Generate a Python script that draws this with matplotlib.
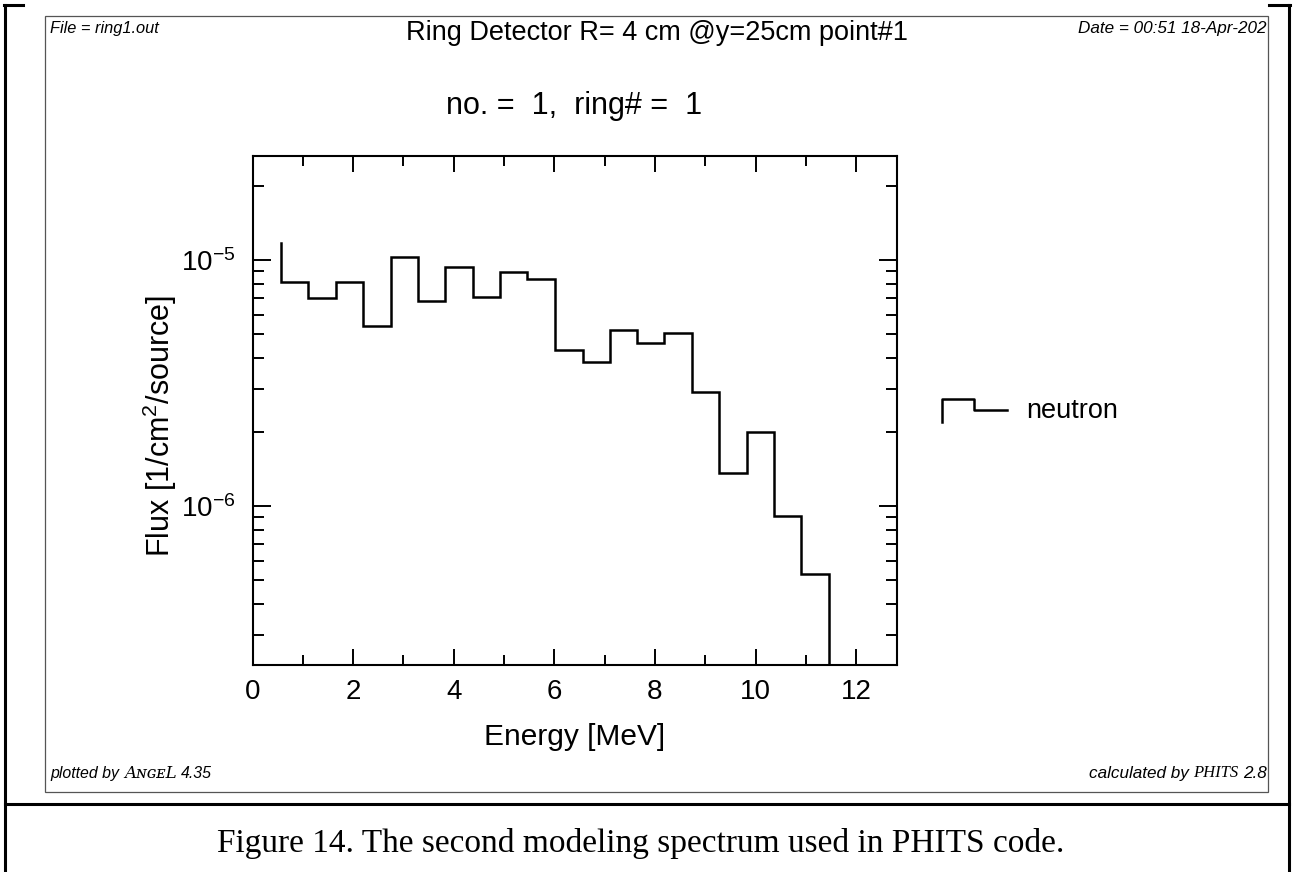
import numpy as np
import matplotlib
matplotlib.use("Agg")
import matplotlib.pyplot as plt
from matplotlib.lines import Line2D
from matplotlib.patches import Rectangle
from matplotlib.text import Annotation

# ---------------- data ----------------
energy_edges = [0.563, 1.11, 1.656, 2.199, 2.75, 3.28, 3.83, 4.39, 4.92, 5.45, 6.01,
                6.56, 7.11, 7.64, 8.18, 8.73, 9.28, 9.82, 10.36, 10.90, 11.45]
flux = [8.17e-6, 7.03e-6, 8.12e-6, 5.37e-6, 1.025e-5, 6.82e-6, 9.34e-6, 7.10e-6,
        8.97e-6, 8.35e-6, 4.31e-6, 3.85e-6, 5.19e-6, 4.62e-6, 5.03e-6, 2.90e-6,
        1.365e-6, 2.0e-6, 9.16e-7, 5.28e-7]
start_flux = 1.17e-5          # level before the first bin (left spike)
x_ticks = [0, 2, 4, 6, 8, 10, 12]
x_lim = (0, 12.8)
y_lim = (2.265e-7, 2.65e-5)
series_name = "neutron"

title_top = "Ring Detector R= 4 cm @y=25cm point#1"
title_sub = "no. =  1,  ring# =  1"
x_label = "Energy [MeV]"
y_label = "Flux [1/cm$^2$/source]"
hdr_file = "File = ring1.out"
hdr_date = "Date = 00:51 18-Apr-202"
caption = "Figure 14. The second modeling spectrum used in PHITS code."

# ---------------- figure ----------------
W, H = 1294, 872
plt.rcParams['font.family'] = ['Liberation Sans', 'DejaVu Sans']
plt.rcParams['mathtext.fontset'] = 'custom'
plt.rcParams['mathtext.rm'] = 'Liberation Sans'
plt.rcParams['mathtext.it'] = 'Liberation Sans:italic'
plt.rcParams['mathtext.bf'] = 'Liberation Sans:bold'

fig = plt.figure(figsize=(W / 100, H / 100), dpi=100)


def fx(x):
    return x / W


def fy(y):
    return 1 - y / H


# axes box in pixels: left 252.5, right 896.5, top 155.7, bottom 665
ax = fig.add_axes([fx(252.5), fy(665), fx(896.5) - fx(252.5), fy(155.7) - fy(665)])
ax.set_yscale('log')
ax.set_xlim(*x_lim)
ax.set_ylim(*y_lim)

# histogram line
xs = np.repeat(energy_edges, 2)
ys = np.concatenate([[start_flux], np.repeat(flux, 2), [y_lim[0] * 0.5]])
ax.plot(xs, ys, color='black', lw=1.8, solid_joinstyle='miter')

# ticks
ax.set_xticks(x_ticks)
ax.set_xticks(np.arange(1, 13, 2), minor=True)
ax.tick_params(axis='both', which='both', direction='in', top=True, right=True,
               width=1.4, colors='black')
ax.tick_params(axis='x', which='major', length=11.2, pad=10, labelsize=20)
ax.tick_params(axis='x', which='minor', length=7.0)
ax.tick_params(axis='y', which='major', length=13, pad=12, labelsize=20)
ax.tick_params(axis='y', which='minor', length=7.9, labelleft=False)
ax.yaxis.set_major_locator(matplotlib.ticker.LogLocator(base=10, numticks=10))
ax.yaxis.set_minor_locator(matplotlib.ticker.LogLocator(base=10, subs=np.arange(2, 10), numticks=20))
ax.yaxis.set_minor_formatter(matplotlib.ticker.NullFormatter())
for s in ax.spines.values():
    s.set_linewidth(1.5)

ax.set_xlabel(x_label, fontsize=21.5, va='center')
ax.xaxis.set_label_coords(0.5, (665 - 737) / (665 - 155.7))
ax.set_ylabel(y_label, fontsize=22, va='center')
ax.yaxis.set_label_coords((160 - 252.5) / 644, (665 - 426) / (665 - 155.7))
ax.set_title(title_sub, fontsize=22, y=(665 - 114) / (665 - 155.7), va='center')

# legend (drawn like the ANGEL key)
fig.add_artist(Line2D([fx(941.7), fx(941.7), fx(974), fx(974), fx(1006.7)],
                      [fy(421.7), fy(399.3), fy(399.3), fy(410), fy(410)],
                      color='black', lw=1.8, transform=fig.transFigure))
fig.text(fx(1026), fy(411), series_name, fontsize=19.5, ha='left', va='center')

# header of the ANGEL page
fig.text(fx(657), fy(33), title_top, fontsize=19.5, ha='center', va='center')
fig.text(fx(50), fy(28), hdr_file, fontsize=11.8, style='italic', ha='left', va='center')
fig.text(fx(1266.7), fy(28), hdr_date, fontsize=12.3, style='italic', ha='right', va='center')

# footer: texts chained one after another
t1 = fig.text(fx(50), fy(773), "plotted by", fontsize=11.4, style='italic',
              ha='left', va='center')
a2 = fig.add_artist(Annotation(
    "A\u0274\u0262\u1d07L", xy=(1, 0.5), xycoords=t1, xytext=(4, 0), textcoords='offset points',
    fontsize=12, style='italic', family=['DejaVu Serif'], ha='left', va='center'))
a3 = fig.add_artist(Annotation(
    "4.35", xy=(1, 0.5), xycoords=a2, xytext=(3, 0), textcoords='offset points',
    fontsize=11.4, style='italic', ha='left', va='center'))

r1 = fig.text(fx(1266.7), fy(773), "2.8", fontsize=12.3, style='italic',
              ha='right', va='center')
r2 = fig.add_artist(Annotation(
    "PHITS", xy=(0, 0.5), xycoords=r1, xytext=(-3, 0), textcoords='offset points',
    fontsize=12, style='italic', family=['Liberation Serif'], ha='right', va='center'))
r3 = fig.add_artist(Annotation(
    "calculated by", xy=(0, 0.5), xycoords=r2, xytext=(-3, 0), textcoords='offset points',
    fontsize=12.3, style='italic', ha='right', va='center'))

# inner page frame (thin grey)
fig.add_artist(Rectangle((fx(45), fy(792)), fx(1268) - fx(45), fy(16) - fy(792),
                         fill=False, edgecolor='#555555', lw=0.9, transform=fig.transFigure))

# outer document table border (thick black)
bk = dict(color='black', lw=2.2, transform=fig.transFigure)
fig.add_artist(Line2D([fx(4.5), fx(4.5)], [fy(5), fy(872)], **bk))
fig.add_artist(Line2D([fx(1288.5), fx(1288.5)], [fy(5), fy(872)], **bk))
fig.add_artist(Line2D([fx(4.5), fx(1288.5)], [fy(804), fy(804)], **bk))
fig.add_artist(Line2D([fx(3.5), fx(22.5)], [fy(5), fy(5)], **bk))
fig.add_artist(Line2D([fx(1269), fx(1289.5)], [fy(5), fy(5)], **bk))

# caption
fig.text(fx(217), fy(843), caption, fontsize=24, family=['Liberation Serif'],
         ha='left', va='center')

fig.savefig("out.png", dpi=100)
